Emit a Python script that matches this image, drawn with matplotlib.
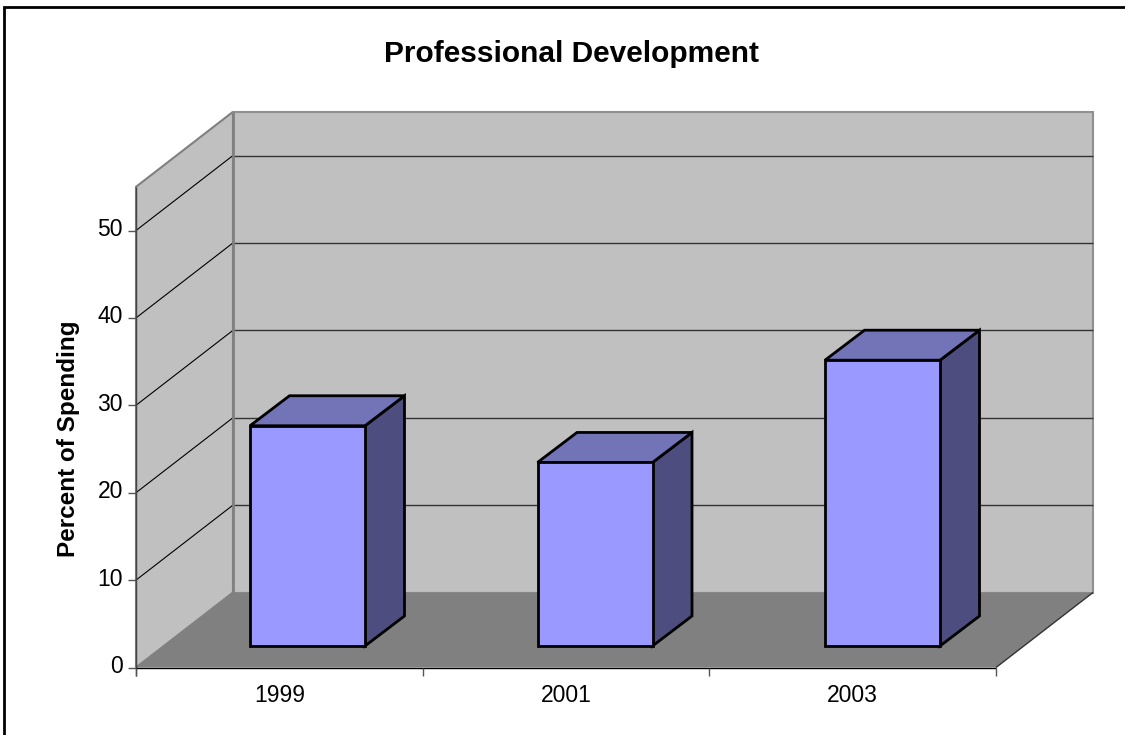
import matplotlib
matplotlib.use('Agg')
import matplotlib.pyplot as plt
from matplotlib.patches import Polygon, Rectangle

years = ['1999', '2001', '2003']
spending = [25.2, 21.0, 32.7]
y_ticks = [0, 10, 20, 30, 40, 50]
y_top = 55

# where the 3d box sits on the page, in pixels
X0, X1 = 136, 996
Y0 = 667.5
PX_PER_UNIT = 8.74
DX, DY = 97, -75
BAR_W = 115
BAR_DX, BAR_DY = 39.5, -30
BAR_LEFT = 250
BAR_STEP = 287.5
BAR_BASE = 646

def front_y(v):
    return Y0 - v * PX_PER_UNIT

def main():
    plt.rcParams['font.family'] = ['Liberation Sans', 'DejaVu Sans']
    fig = plt.figure(figsize=(11.25, 7.35), dpi=100)
    ax = fig.add_axes([0, 0, 1, 1])
    ax.set_xlim(0, 1125)
    ax.set_ylim(735, 0)
    ax.axis('off')

    # outer frame, runs off the right and bottom edges of the picture
    ax.add_patch(Rectangle((4, 7), 1200, 800, fc='white', ec='black', lw=2))

    top = front_y(y_top)
    # side wall, back wall, floor
    ax.add_patch(Polygon([(X0, Y0), (X0 + DX, Y0 + DY), (X0 + DX, top + DY), (X0, top)],
                         fc='#c0c0c0', ec='#808080', lw=1.5))
    ax.add_patch(Polygon([(X0 + DX, Y0 + DY), (X1 + DX, Y0 + DY), (X1 + DX, top + DY), (X0 + DX, top + DY)],
                         fc='#c0c0c0', ec='#909090', lw=1.5))
    ax.add_patch(Polygon([(X0, Y0), (X1, Y0), (X1 + DX, Y0 + DY), (X0 + DX, Y0 + DY)],
                         fc='#808080', ec='none'))

    # gridlines and y ticks
    for v in y_ticks:
        y = front_y(v)
        if v > 0:
            ax.plot([X0, X0 + DX], [y, y + DY], color='black', lw=0.8, solid_capstyle='butt')
            ax.plot([X0 + DX, X1 + DX], [y + DY, y + DY], color='#333333', lw=1, solid_capstyle='butt')
        ax.plot([X0 - 8, X0], [y, y], color='#555555', lw=1, solid_capstyle='butt')
        ax.text(X0 - 13, y - 1, str(v), ha='right', va='center', fontsize=16.5, color='black')

    # back corner is a heavier grey line
    ax.plot([X0 + DX, X0 + DX], [top + DY, Y0 + DY], color='#808080', lw=2, solid_capstyle='butt')

    # front edges of the box
    ax.plot([X0, X0], [top, Y0 + 8], color='#444444', lw=1, solid_capstyle='butt')
    ax.plot([X0, X1], [Y0, Y0], color='black', lw=1, solid_capstyle='butt')
    ax.plot([X1, X1 + DX], [Y0, Y0 + DY], color='#333333', lw=1, solid_capstyle='butt')

    cat_w = (X1 - X0) / len(years)
    for i in range(len(years) + 1):
        x = X0 + i * cat_w
        ax.plot([x, x], [Y0, Y0 + 8], color='#555555', lw=1, solid_capstyle='butt')

    for i, (year, val) in enumerate(zip(years, spending)):
        xc = X0 + (i + 0.5) * cat_w
        ax.text(xc, 696, year, ha='center', va='center', fontsize=16.5, color='black')

        left = BAR_LEFT + i * BAR_STEP
        right = left + BAR_W
        ytop = BAR_BASE - val * PX_PER_UNIT
        ax.add_patch(Polygon([(right, BAR_BASE), (right + BAR_DX, BAR_BASE + BAR_DY),
                              (right + BAR_DX, ytop + BAR_DY), (right, ytop)],
                             fc='#4d4d80', ec='black', lw=2, joinstyle='miter', zorder=5))
        ax.add_patch(Polygon([(left, ytop), (right, ytop), (right + BAR_DX, ytop + BAR_DY),
                              (left + BAR_DX, ytop + BAR_DY)],
                             fc='#7373b8', ec='black', lw=2, joinstyle='miter', zorder=5))
        ax.add_patch(Polygon([(left, BAR_BASE), (right, BAR_BASE), (right, ytop), (left, ytop)],
                             fc='#9999ff', ec='black', lw=2, joinstyle='miter', zorder=6))

    ax.text(571, 54, 'Professional Development', ha='center', va='center',
            fontsize=21.5, fontweight='bold', color='black')
    ax.text(68, 439, 'Percent of Spending', ha='center', va='center', rotation=90,
            fontsize=17.5, fontweight='bold', color='black')

    fig.savefig('out.png', dpi=100)

if __name__ == "__main__":
    main()
